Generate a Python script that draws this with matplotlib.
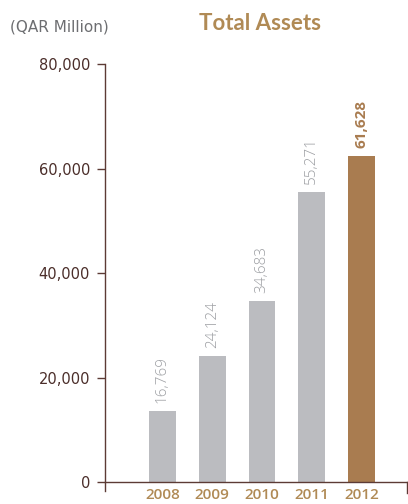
import matplotlib
matplotlib.use("Agg")
import matplotlib.pyplot as plt

# values as drawn in the chart (bar heights) and the printed labels
years = ["2008", "2009", "2010", "2011", "2012"]
bar_heights = [13650, 24150, 34700, 55500, 62400]
value_labels = ["16,769", "24,124", "34,683", "55,271", "61,628"]
y_ticks = [0, 20000, 40000, 60000, 80000]
y_tick_labels = ["0", "20,000", "40,000", "60,000", "80,000"]

gray = "#bbbcc0"
brown = "#a97c50"
gold = "#b08a55"
axis_col = "#5c3b35"
label_gray = "#9d9fa3"

fig = plt.figure(figsize=(4.08, 5.04), dpi=100)
ax = fig.add_axes([0.258, 0.0264, 0.739, 0.846])

colors = [gray] * (len(years) - 1) + [brown]
x = list(range(len(years)))
ax.bar(x, bar_heights, width=0.54, color=colors, zorder=2)

for i, (h, lab) in enumerate(zip(bar_heights, value_labels)):
    last = i == len(years) - 1
    ax.annotate(lab, (i, h), xytext=(0, 6), textcoords="offset points",
                rotation=90, ha="center", va="bottom",
                fontsize=11, family="Open Sans",
                fontweight="bold" if last else "light",
                color=brown if last else label_gray)

ax.set_xlim(-1.15, 4.91)
ax.set_ylim(-1600, 80000)

for s in ["top", "right"]:
    ax.spines[s].set_visible(False)
ax.spines["bottom"].set_position(("data", 0))
ax.spines["bottom"].set_color(axis_col)
ax.spines["left"].set_color(axis_col)
ax.spines["left"].set_bounds(-1600, 80000)
ax.spines["bottom"].set_linewidth(1.0)
ax.spines["left"].set_linewidth(1.0)

# small end tick on the right of the x axis
ax.plot([1, 1], [0, -2100], transform=ax.get_yaxis_transform(),
        color=axis_col, lw=1.0, clip_on=False)

ax.set_yticks(y_ticks)
ax.set_yticklabels(y_tick_labels)
ax.tick_params(axis="y", direction="out", length=6, width=1.0,
               color=axis_col, labelcolor="#4b2e2a", labelsize=10.5, pad=5)

ax.set_xticks(x)
ax.set_xticklabels(years)
ax.tick_params(axis="x", length=0, labelcolor=gold, labelsize=11, pad=4)
for t in ax.get_xticklabels():
    t.set_family("Open Sans")
    t.set_fontweight("semibold")

fig.text(0.025, 0.946, "(QAR Million)", fontsize=11, color="#6d6e71",
         ha="left", va="center")
fig.text(0.637, 0.953, "Total Assets", fontsize=16, fontweight="bold",
         family="Lato", color=gold, ha="center", va="center")

fig.savefig("out.png", dpi=100)
